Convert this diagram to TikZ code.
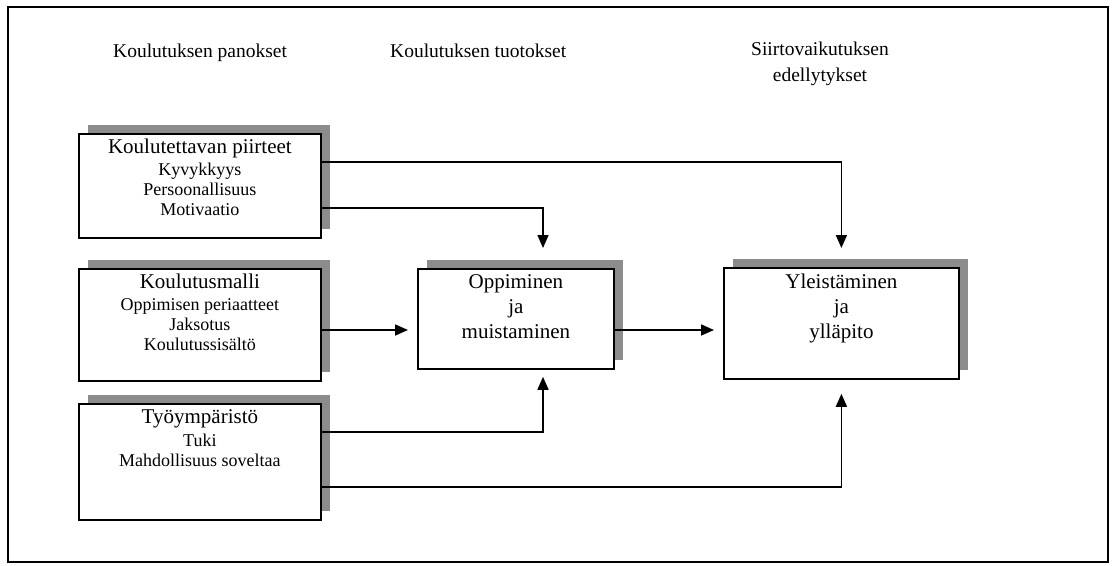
\documentclass[tikz,border=0pt]{standalone}
\usepackage{fontspec}
\setmainfont{Liberation Serif}
\usetikzlibrary{arrows.meta,calc,positioning,shadows}

\tikzset{
  laatikko/.style={draw, line width=1.8pt, fill=white, anchor=north west,
    drop shadow={shadow xshift=9pt, shadow yshift=9pt, fill=black!45, opacity=1}},
  teksti/.style={align=center, inner sep=0pt, font=\fontsize{18}{20}\selectfont},
  otsikko/.style={inner sep=0pt, align=center, font=\fontsize{19.5}{26}\selectfont},
  nuoli/.style={line width=1.6pt, -{Triangle[length=13pt,width=11pt]}}
}

\begin{document}
\begin{tikzpicture}[x=1pt,y=-1pt]
\useasboundingbox (0,0) rectangle (1113,565);
\draw[line width=2pt] (8,7) rectangle (1108,562);

% otsikot
\node[otsikko, anchor=base west] (hPanokset) at (113,57) {Koulutuksen panokset};
\node[otsikko, anchor=base west] (hTuotokset) at (390,57) {Koulutuksen tuotokset};
\node[otsikko, anchor=north] (hSiirto) at (820,42) {Siirtovaikutuksen\\edellytykset};

% laatikot
\node[laatikko, minimum width=242pt, minimum height=104pt] (piirteet) at (78,133) {};
\node[laatikko, minimum width=242pt, minimum height=112pt] (malli) at (78,268) {};
\node[laatikko, minimum width=242pt, minimum height=116pt] (ymparisto) at (78,403) {};
\node[laatikko, minimum width=196pt, minimum height=100pt] (oppiminen) at (417,268) {};
\node[laatikko, minimum width=235pt, minimum height=111pt] (yleistaminen) at (723,267) {};

\node[teksti, below=6pt of piirteet.north] (tPiirteet)
  {{\fontsize{21}{22}\selectfont Koulutettavan piirteet}\\[2pt]
   Kyvykkyys\\ Persoonallisuus\\ Motivaatio};
\node[teksti, below=6pt of malli.north] (tMalli)
  {{\fontsize{21}{22}\selectfont Koulutusmalli}\\[2pt]
   Oppimisen periaatteet\\ Jaksotus\\ Koulutussisältö};
\node[teksti, below=6pt of ymparisto.north] (tYmparisto)
  {{\fontsize{21}{22}\selectfont Työympäristö}\\[3pt]
   Tuki\\ Mahdollisuus soveltaa};
\node[teksti, font=\fontsize{21}{25}\selectfont, below=6pt of oppiminen.north] (tOppiminen)
  {Oppiminen\\ ja\\ muistaminen};
\node[teksti, font=\fontsize{21}{25}\selectfont, below=7pt of yleistaminen.north] (tYleistaminen)
  {Yleistäminen\\ ja\\ ylläpito};

% nuolet
\draw[nuoli, shorten >=19pt] ($(piirteet.north east)+(0,29)$) -| (yleistaminen.north);
\draw[nuoli, shorten >=20pt] ($(piirteet.north east)+(0,75)$) -| ($(oppiminen.north west)+(126,0)$);
\draw[nuoli, shorten >=9pt] ($(malli.north east)+(0,62)$) -- ($(oppiminen.north west)+(0,62)$);
\draw[nuoli, shorten >=9pt] ($(oppiminen.north east)+(0,62)$) -- ($(yleistaminen.north west)+(0,63)$);
\draw[nuoli, shorten >=7pt] ($(ymparisto.north east)+(0,29)$) -| ($(oppiminen.south west)+(126,0)$);
\draw[nuoli, shorten >=14pt] ($(ymparisto.north east)+(0,84)$) -| (yleistaminen.south);
\end{tikzpicture}
\end{document}
